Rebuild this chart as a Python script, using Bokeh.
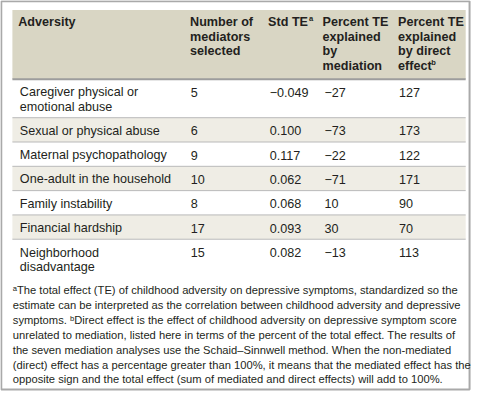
from bokeh.plotting import figure
from bokeh.models import Range1d
from bokeh.core.properties import value
from bokeh.embed import file_html
from bokeh.resources import INLINE

# ---------------- data ----------------
headers = [["Adversity"],
           ["Number of", "mediators", "selected"],
           ["Std TE"],
           ["Percent TE", "explained", "by", "mediation"],
           ["Percent TE", "explained", "by direct", "effect"]]
header_sup = ["a", "b"]  # superscripts after "Std TE" and "effect"

adversity = [["Caregiver physical or", "emotional abuse"],
             ["Sexual or physical abuse"],
             ["Maternal psychopathology"],
             ["One-adult in the household"],
             ["Family instability"],
             ["Financial hardship"],
             ["Neighborhood", "disadvantage"]]
n_mediators = [5, 6, 9, 10, 8, 17, 15]
std_te = [-0.049, 0.100, 0.117, 0.062, 0.068, 0.093, 0.082]
pct_mediation = [-27, -73, -22, -71, 10, 30, -13]
pct_direct = [127, 173, 122, 171, 90, 70, 113]

footnote = [
    "\u1d43The total effect (TE) of childhood adversity on depressive symptoms, standardized so the",
    "estimate can be interpreted as the correlation between childhood adversity and depressive",
    "symptoms. \u1d47Direct effect is the effect of childhood adversity on depressive symptom score",
    "unrelated to mediation, listed here in terms of the percent of the total effect. The results of",
    "the seven mediation analyses use the Schaid\u2013Sinnwell method. When the non-mediated",
    "(direct) effect has a percentage greater than 100%, it means that the mediated effect has the",
    "opposite sign and the total effect (sum of mediated and direct effects) will add to 100%.",
]

# ---------------- layout (reference pixel space) ----------------
W, H = 471, 391
RW, RH = 487, 407
FONT = "Liberation Sans"
FS = "12.6px"
TXT = "#231f20"

p = figure(width=W, height=H, x_range=Range1d(0, RW), y_range=Range1d(RH, 0),
           output_backend="svg", toolbar_location=None, min_border=0)
p.axis.visible = False
p.grid.visible = False
p.outline_line_color = None
p.background_fill_color = "white"
p.border_fill_color = "white"

tl, tr = 12.3, 481
head_top, head_bot = 10, 82
row_bounds = [82, 122, 147.3, 172.6, 197.9, 223.2, 248.5, 289]
row_fill = ["white", "#efede5", "white", "#efede5", "white", "#efede5", "white"]

# outer frame
p.quad(left=[0.8], right=[485], top=[0.8], bottom=[405], fill_color=None,
       line_color="#a9a9a9", line_width=2)
# header bg
p.quad(left=[tl], right=[tr], top=[head_top], bottom=[head_bot],
       fill_color="#d9d6c4", line_color=None)
# row bgs
p.quad(left=[tl] * 7, right=[tr] * 7, top=row_bounds[:-1], bottom=row_bounds[1:],
       fill_color=row_fill, line_color=None)
# row lines
p.segment(x0=[tl] * 6, x1=[tr] * 6, y0=row_bounds[1:], y1=row_bounds[1:],
          line_color="#b9b9b9", line_width=1)
p.segment(x0=[tl], x1=[tr], y0=[head_bot], y1=[head_bot], line_color="#9d9d9d", line_width=2)

col_x_head = [18.3, 196, 276.7, 333, 411]
col_x_val = [20, 196.7, 278.3, 335, 412]
head_y = [22.5, 37.7, 52.9, 68.1]
row_line_y = [[95.5, 111], [135.5], [161], [186.3], [211.6], [237], [262.5, 277.7]]

# header text
hx, hy, ht = [], [], []
for ci, lines in enumerate(headers):
    for li, t in enumerate(lines):
        hx.append(col_x_head[ci]); hy.append(head_y[li]); ht.append(t)
p.text(x=hx, y=hy, text=ht, text_font=value(FONT), text_font_size=FS,
       text_font_style="bold", text_baseline="middle", text_color=TXT)
# header superscripts
p.text(x=[319, 445.5], y=[head_y[0] - 4, head_y[3] - 4], text=header_sup,
       text_font=value(FONT), text_font_size="7.5px", text_font_style="bold",
       text_baseline="middle", text_color=TXT)

def fmt_num(v, dec=0):
    s = f"{v:.{dec}f}"
    return s.replace("-", "\u2212")

bx, by, bt = [], [], []
for ri in range(len(adversity)):
    for li, t in enumerate(adversity[ri]):
        bx.append(col_x_val[0]); by.append(row_line_y[ri][li]); bt.append(t)
    y0 = row_line_y[ri][0]
    for ci, s in zip([1, 2, 3, 4], [str(n_mediators[ri]), fmt_num(std_te[ri], 3),
                                    fmt_num(pct_mediation[ri]), fmt_num(pct_direct[ri])]):
        bx.append(col_x_val[ci]); by.append(y0); bt.append(s)
p.text(x=bx, y=by, text=bt, text_font=value(FONT), text_font_size=FS,
       text_baseline="middle", text_color=TXT)

foot_y = [301.5, 317, 332.5, 348, 363.5, 379, 394.5]
p.text(x=[12.7] * 7, y=foot_y, text=footnote, text_font=value(FONT), text_font_size="11.2px",
       text_baseline="middle", text_color=TXT)

open("out.html", "w").write(file_html(p, INLINE))
